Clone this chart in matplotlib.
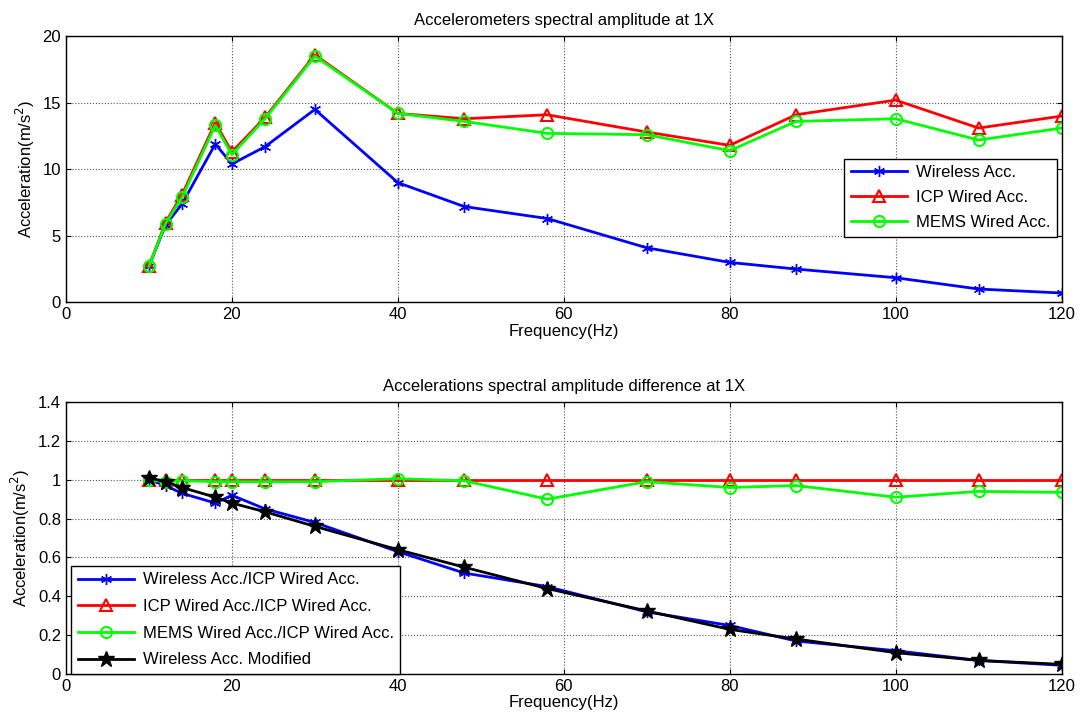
import matplotlib.pyplot as plt
import numpy as np

plt.rcParams['font.family'] = ['Liberation Sans', 'DejaVu Sans']

# Frecuencias medidas (Hz)
freq = [10, 12, 14, 18, 20, 24, 30, 40, 48, 58, 70, 80, 88, 100, 110, 120]

# Amplitudes espectrales a 1X (m/s^2)
wireless = [2.7, 5.8, 7.4, 11.9, 10.4, 11.7, 14.5, 9.0, 7.2, 6.3, 4.1, 3.0, 2.5, 1.85, 1.0, 0.7]
icp = [2.7, 6.0, 8.1, 13.5, 11.3, 13.9, 18.6, 14.2, 13.8, 14.1, 12.8, 11.8, 14.1, 15.2, 13.1, 14.0]
mems = [2.7, 5.9, 7.9, 13.3, 11.1, 13.8, 18.5, 14.2, 13.6, 12.7, 12.6, 11.4, 13.6, 13.8, 12.2, 13.1]

# Relaciones respecto al ICP
ratio_wireless = [1.0, 0.97, 0.93, 0.88, 0.92, 0.85, 0.78, 0.63, 0.52, 0.45, 0.32, 0.25, 0.17, 0.12, 0.07, 0.045]
ratio_icp = [1.0] * 16
ratio_mems = [1.0, 0.99, 0.995, 0.99, 0.99, 0.99, 0.99, 1.005, 0.995, 0.90, 0.99, 0.96, 0.97, 0.91, 0.94, 0.935]
ratio_modified = [1.01, 0.99, 0.96, 0.91, 0.88, 0.835, 0.76, 0.64, 0.55, 0.44, 0.325, 0.23, 0.18, 0.11, 0.07, 0.05]

asterisco = (6, 2, 0)
fs = 12

fig = plt.figure(figsize=(10.81, 7.25), dpi=100)
ax1 = fig.add_axes([0.061, 0.583, 0.921, 0.367])
ax2 = fig.add_axes([0.061, 0.0703, 0.921, 0.3752])

# ----- Gráfico superior -----
ax1.plot(freq, wireless, color='blue', marker=asterisco, markersize=8, linewidth=2, label='Wireless Acc.')
ax1.plot(freq, icp, color='red', marker='^', markersize=8, markerfacecolor='none', markeredgewidth=1.5,
         linewidth=2, label='ICP Wired Acc.')
ax1.plot(freq, mems, color='#00ff00', marker='o', markersize=8, markerfacecolor='none', markeredgewidth=1.5,
         linewidth=2, label='MEMS Wired Acc.')
ax1.set_xlim(0, 120)
ax1.set_ylim(0, 20)
ax1.set_xticks(np.arange(0, 121, 20))
ax1.set_yticks(np.arange(0, 21, 5))
ax1.set_title('Accelerometers spectral amplitude at 1X', fontsize=fs, pad=8)
ax1.set_xlabel('Frequency(Hz)', fontsize=fs, labelpad=1)
ax1.set_ylabel('Acceleration(m/s$^2$)', fontsize=fs, labelpad=4)
ax1.legend(loc='upper right', bbox_to_anchor=(0.995, 0.54), fontsize=fs, fancybox=False,
           edgecolor='black', framealpha=1, borderaxespad=0.0, handlelength=3.4, labelspacing=0.6,
           handletextpad=0.5)

# ----- Gráfico inferior -----
ax2.plot(freq, ratio_wireless, color='blue', marker=asterisco, markersize=8, linewidth=2,
         label='Wireless Acc./ICP Wired Acc.')
ax2.plot(freq, ratio_icp, color='red', marker='^', markersize=8, markerfacecolor='none', markeredgewidth=1.5,
         linewidth=2, label='ICP Wired Acc./ICP Wired Acc.')
ax2.plot(freq, ratio_mems, color='#00ff00', marker='o', markersize=8, markerfacecolor='none',
         markeredgewidth=1.5, linewidth=2, label='MEMS Wired Acc./ICP Wired Acc.')
ax2.plot(freq, ratio_modified, color='black', marker='*', markersize=12, linewidth=2,
         label='Wireless Acc. Modified')
ax2.set_xlim(0, 120)
ax2.set_ylim(0, 1.4)
ax2.set_xticks(np.arange(0, 121, 20))
ax2.set_yticks(np.arange(0, 1.41, 0.2))
ax2.set_yticklabels(['0', '0.2', '0.4', '0.6', '0.8', '1', '1.2', '1.4'])
ax2.set_title('Accelerations spectral amplitude difference at 1X', fontsize=fs, pad=8)
ax2.set_xlabel('Frequency(Hz)', fontsize=fs, labelpad=1)
ax2.set_ylabel('Acceleration(m/s$^2$)', fontsize=fs, labelpad=4)
ax2.legend(loc='lower left', bbox_to_anchor=(0.005, 0.0), fontsize=fs, fancybox=False, edgecolor='black',
           framealpha=1, borderaxespad=0.0, handlelength=3.4, labelspacing=0.7, handletextpad=0.5)

for ax in [ax1, ax2]:
    ax.grid(True, linestyle=':', color='#555555', linewidth=0.8)
    ax.tick_params(direction='in', top=True, right=True, labelsize=fs)
    for s in ax.spines.values():
        s.set_linewidth(1.0)

plt.savefig('out.png', dpi=100)
